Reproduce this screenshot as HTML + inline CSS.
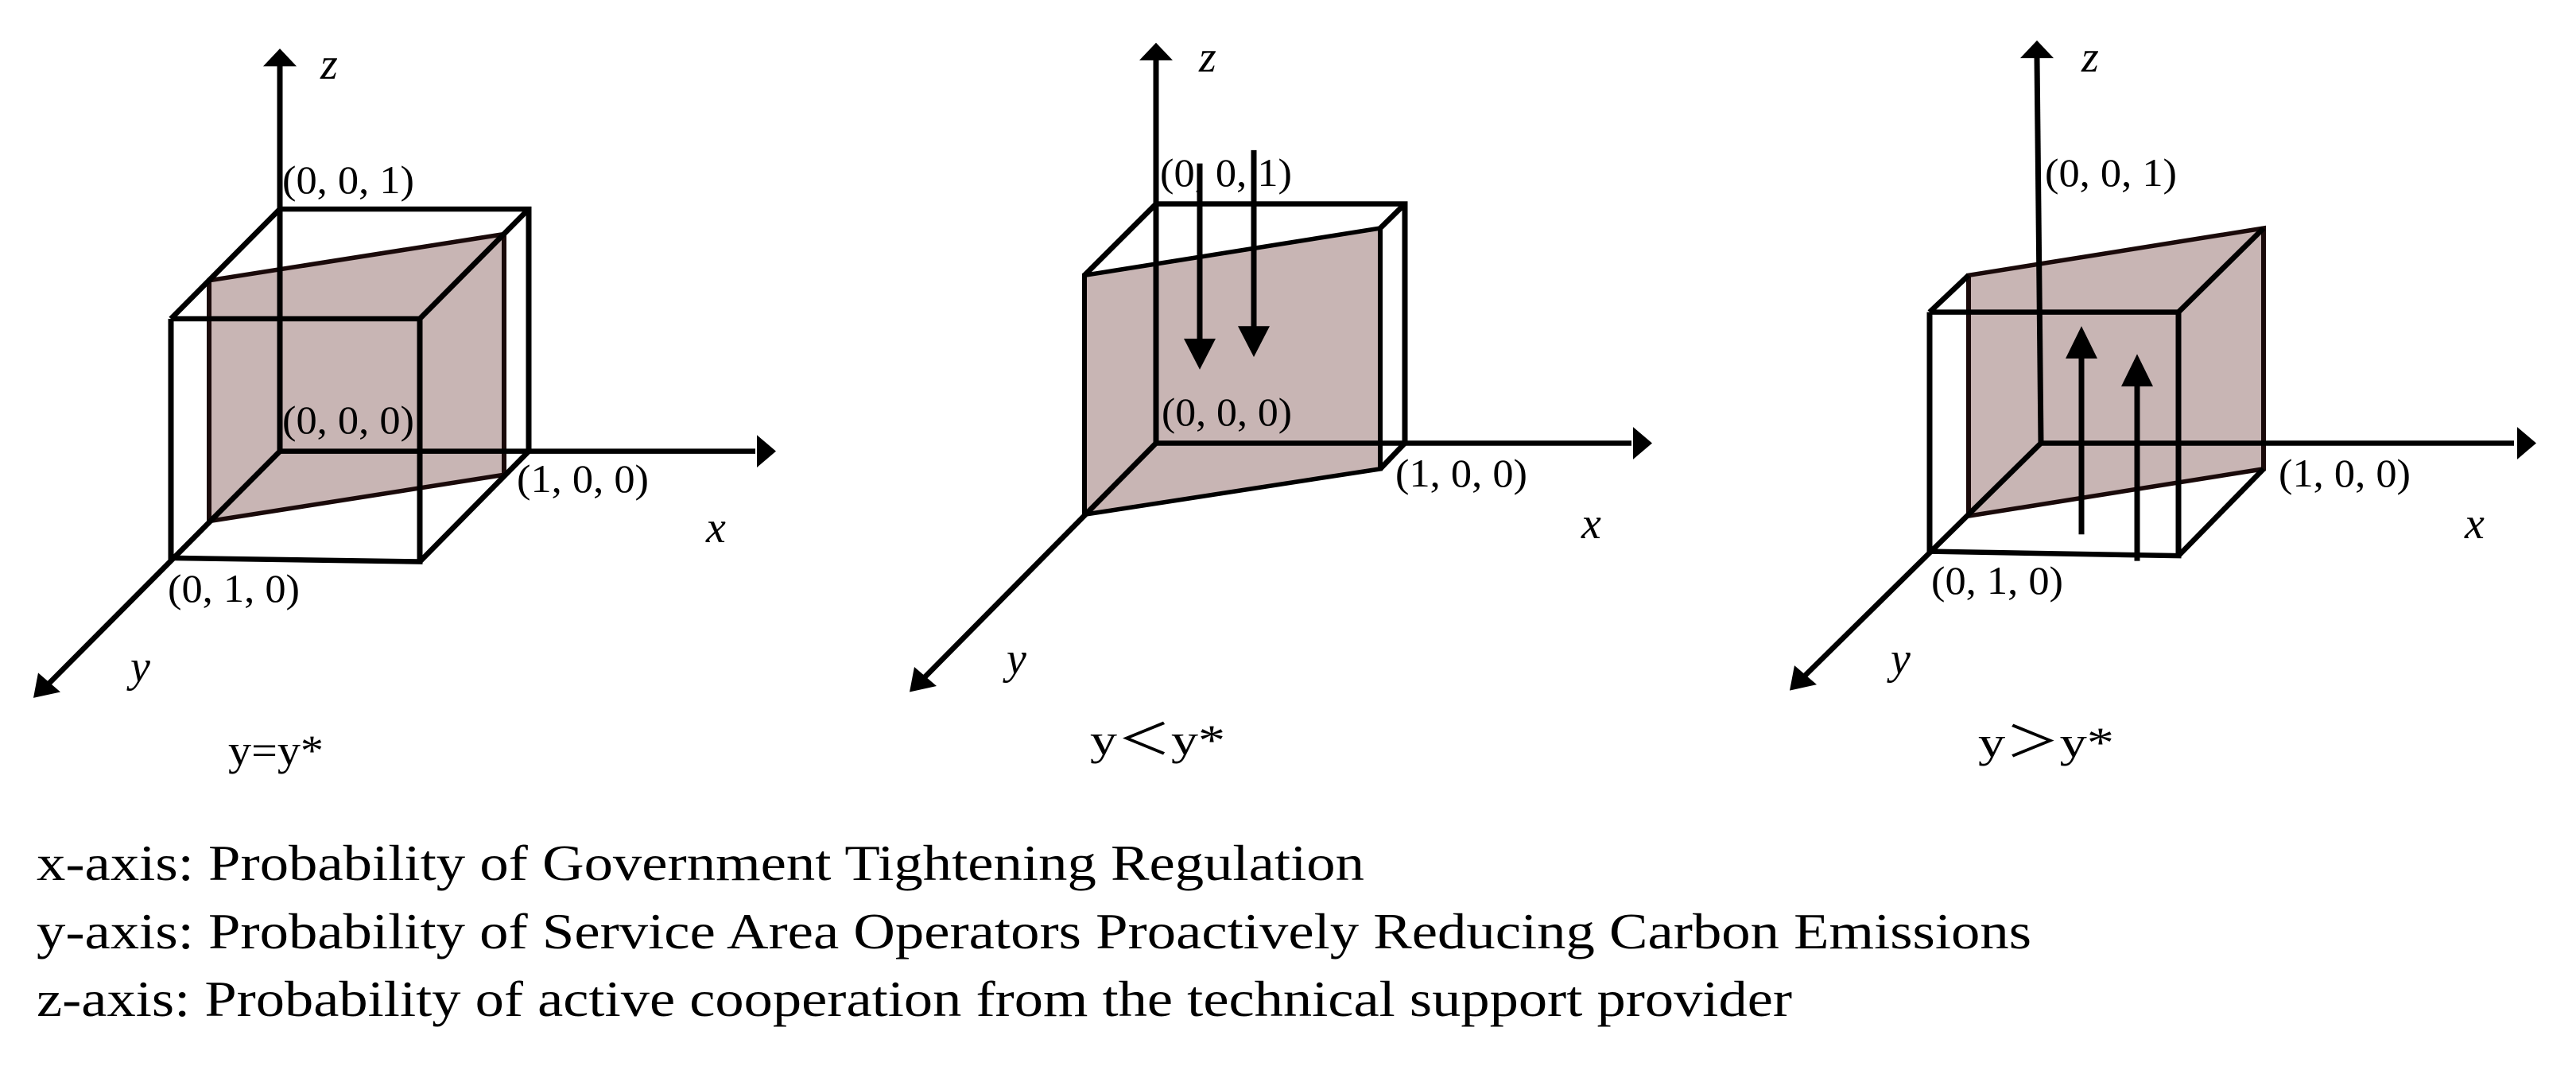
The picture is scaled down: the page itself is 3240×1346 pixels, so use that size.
<!DOCTYPE html>
<html><head><meta charset="utf-8"><style>
html,body{margin:0;padding:0;background:#fff;}
svg{display:block;}
text{font-family:"Liberation Serif",serif;fill:#000;}
.lab{font-size:50px;}
.ax{font-size:56px;font-style:italic;}
.cap{font-size:54px;}
.leg{font-size:64px;}
</style></head><body>
<svg width="3240" height="1346" viewBox="0 0 3240 1346" xmlns="http://www.w3.org/2000/svg">
<g transform="matrix(1,0,0,0.926,0,0)">
<g stroke="#000" stroke-width="7" fill="none" stroke-linejoin="miter">

<!-- Diagram 1 -->
<polygon points="263,381 634,318 634,645 263,708" fill="#c8b5b4" stroke="#1a0a0a" stroke-width="6"/>
<line x1="352" y1="88" x2="352" y2="613"/>
<line x1="352" y1="613" x2="950" y2="613"/>
<line x1="352" y1="613" x2="62" y2="928"/>
<polygon points="352,66 331,90 373,90" fill="#000" stroke="none"/>
<polygon points="976,613 952,591 952,635" fill="#000" stroke="none"/>
<polygon points="42,948 48,914 76,940" fill="#000" stroke="none"/>
<polyline points="352,284 665,284 665,613"/>
<polyline points="215,433 528,433 528,763 215,758 215,433"/>
<line x1="215" y1="433" x2="352" y2="284"/>
<line x1="528" y1="433" x2="665" y2="284"/>
<line x1="528" y1="763" x2="665" y2="613"/>

<!-- Diagram 2 -->
<polygon points="1364,374 1736,310 1736,637 1364,699" fill="#c8b5b4" stroke="#000" stroke-width="6"/>
<line x1="1454" y1="80" x2="1454" y2="602"/>
<line x1="1454" y1="602" x2="2052" y2="602"/>
<line x1="1454" y1="602" x2="1163" y2="920"/>
<polygon points="1454,58 1433,82 1475,82" fill="#000" stroke="none"/>
<polygon points="2078,602 2054,580 2054,624" fill="#000" stroke="none"/>
<polygon points="1144,940 1150,906 1178,932" fill="#000" stroke="none"/>
<polyline points="1364,374 1454,277 1767,277 1767,602 1736,637"/>
<line x1="1736" y1="310" x2="1767" y2="277"/>
<line x1="1509" y1="222" x2="1509" y2="470"/>
<line x1="1577" y1="204" x2="1577" y2="452"/>
<polygon points="1509,502 1489,460 1529,460" fill="#000" stroke="none"/>
<polygon points="1577,485 1557,443 1597,443" fill="#000" stroke="none"/>

<!-- Diagram 3 -->
<polygon points="2476,374 2847,310 2847,637 2476,701" fill="#c8b5b4" stroke="#1a0a0a" stroke-width="6"/>
<line x1="2562" y1="78" x2="2567" y2="602"/>
<line x1="2567" y1="602" x2="3162" y2="602"/>
<line x1="2567" y1="602" x2="2270" y2="918"/>
<polygon points="2562,55 2541,79 2583,79" fill="#000" stroke="none"/>
<polygon points="3190,602 3166,580 3166,624" fill="#000" stroke="none"/>
<polygon points="2251,938 2257,904 2285,930" fill="#000" stroke="none"/>
<polyline points="2427,424 2740,424 2740,755 2427,749 2427,424"/>
<line x1="2427" y1="424" x2="2476" y2="374"/>
<line x1="2740" y1="424" x2="2847" y2="310"/>
<line x1="2740" y1="755" x2="2847" y2="637"/>
<line x1="2618" y1="726" x2="2618" y2="475"/>
<line x1="2688" y1="762" x2="2688" y2="513"/>
<polygon points="2618,443 2598,487 2638,487" fill="#000" stroke="none"/>
<polygon points="2688,481 2668,525 2708,525" fill="#000" stroke="none"/>
</g>
</g>

<!-- Labels diagram 1 -->
<text class="lab" x="355" y="243" textLength="166" lengthAdjust="spacingAndGlyphs">(0, 0, 1)</text>
<text class="lab" x="355" y="545" textLength="166" lengthAdjust="spacingAndGlyphs">(0, 0, 0)</text>
<text class="lab" x="650" y="619" textLength="166" lengthAdjust="spacingAndGlyphs">(1, 0, 0)</text>
<text class="lab" x="211" y="757" textLength="166" lengthAdjust="spacingAndGlyphs">(0, 1, 0)</text>
<text class="ax" x="403" y="99">z</text>
<text class="ax" x="888" y="682">x</text>
<text class="ax" x="164" y="857">y</text>
<text class="cap" x="287" y="962" textLength="120" lengthAdjust="spacingAndGlyphs">y=y*</text>

<!-- Labels diagram 2 -->
<text class="lab" x="1459" y="234" textLength="166" lengthAdjust="spacingAndGlyphs">(0, 0, 1)</text>
<text class="lab" x="1461" y="535" textLength="164" lengthAdjust="spacingAndGlyphs">(0, 0, 0)</text>
<text class="lab" x="1755" y="612" textLength="166" lengthAdjust="spacingAndGlyphs">(1, 0, 0)</text>
<text class="ax" x="1508" y="90">z</text>
<text class="ax" x="1989" y="677">x</text>
<text class="ax" x="1266" y="847">y</text>
<text class="cap" x="1371" y="949" textLength="170" lengthAdjust="spacingAndGlyphs">y＜y*</text>

<!-- Labels diagram 3 -->
<text class="lab" x="2572" y="234" textLength="166" lengthAdjust="spacingAndGlyphs">(0, 0, 1)</text>
<text class="lab" x="2866" y="612" textLength="166" lengthAdjust="spacingAndGlyphs">(1, 0, 0)</text>
<text class="lab" x="2429" y="747" textLength="166" lengthAdjust="spacingAndGlyphs">(0, 1, 0)</text>
<text class="ax" x="2618" y="90">z</text>
<text class="ax" x="3100" y="677">x</text>
<text class="ax" x="2378" y="847">y</text>
<text class="cap" x="2488" y="952" textLength="171" lengthAdjust="spacingAndGlyphs">y＞y*</text>

<!-- Legend -->
<text class="leg" x="46" y="1107" textLength="1670" lengthAdjust="spacingAndGlyphs">x-axis: Probability of Government Tightening Regulation</text>
<text class="leg" x="46" y="1193" textLength="2509" lengthAdjust="spacingAndGlyphs">y-axis: Probability of Service Area Operators Proactively Reducing Carbon Emissions</text>
<text class="leg" x="46" y="1278" textLength="2208" lengthAdjust="spacingAndGlyphs">z-axis: Probability of active cooperation from the technical support provider</text>
</svg>
</body></html>
